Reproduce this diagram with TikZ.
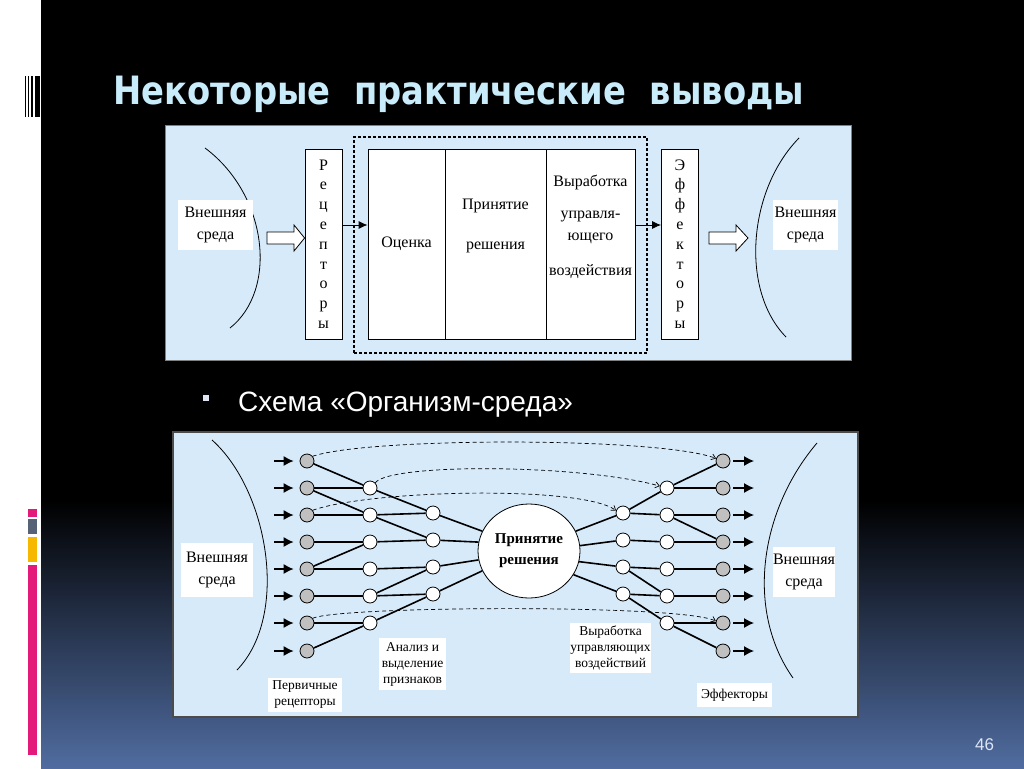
\documentclass[tikz,border=0pt]{standalone}
\usepackage{fontspec}
\setmainfont{Liberation Serif}
\newfontfamily\titlefont{DejaVu Sans}[FakeStretch=0.865]
\newfontfamily\arialfont{Liberation Sans}
\usetikzlibrary{arrows.meta,shapes.geometric}
\definecolor{panel}{RGB}{214,234,250}
\definecolor{titleblue}{RGB}{200,236,250}
\definecolor{pinkbar}{RGB}{228,26,122}
\definecolor{graybar}{RGB}{88,98,118}
\definecolor{yellowbar}{RGB}{246,184,0}
\definecolor{bottomblue}{RGB}{80,108,160}
\definecolor{nodegray}{RGB}{192,192,192}
\definecolor{bullcol}{RGB}{222,230,245}
\begin{document}
\begin{tikzpicture}[x=1pt,y=-1pt,
  envbox/.style={fill=white, inner sep=0pt, align=center, font=\fontsize{16}{22}\selectfont},
  colbox/.style={draw, line width=0.8pt, fill=white, inner sep=0pt, minimum height=190pt},
  coltext/.style={inner sep=0pt, align=center, font=\fontsize{16}{22}\selectfont},
  letterbox/.style={draw, line width=0.8pt, fill=white, inner sep=0pt, minimum width=37pt, minimum height=190pt, align=center, font=\fontsize{16}{19.8}\selectfont},
  hollowarr/.style={draw, line width=0.8pt, fill=white, line join=miter},
  smallarr/.style={line width=0.8pt, -{Latex[length=9pt,width=8pt]}},
  gn/.style={circle, draw, line width=0.8pt, fill=nodegray, minimum size=14pt, inner sep=0pt},
  wn/.style={circle, draw, line width=0.8pt, fill=white, minimum size=14pt, inner sep=0pt},
  link/.style={line width=1.6pt},
  inarr/.style={line width=1.2pt, -{Latex[length=10pt,width=10pt]}},
  dcurve/.style={line width=0.7pt, dash pattern=on 4pt off 3pt, -{Straight Barb[length=4pt,width=6pt]}},
  lab/.style={fill=white, inner sep=0pt, align=center, font=\fontsize{13.5}{16}\selectfont},
  arc/.style={line width=0.8pt},
]
\useasboundingbox (0,0) rectangle (1024,768);
% background
\fill[white] (0,0) rectangle (41,768);
\fill[black] (41,0) rectangle (1024,768);
\shade[top color=black, bottom color=bottomblue] (41,500) rectangle (1024,768);
% barcode
\fill[black] (25,76) rectangle (25.8,117);
\fill[black] (27.7,76) rectangle (29.3,117);
\fill[black] (30.7,76) rectangle (33.3,117);
\fill[black] (34.7,76) rectangle (40,117);
% colored bars
\fill[pinkbar] (28,509) rectangle (37,517);
\fill[graybar] (28,519) rectangle (37,534);
\fill[yellowbar] (28,537) rectangle (37,562);
\fill[pinkbar] (28,565) rectangle (37,755);
% title
\node[anchor=base west, inner sep=0pt, text=titleblue, font=\titlefont\bfseries\fontsize{39}{44}\selectfont] (title) at (113,104) {Некоторые\hspace{12pt} практические\hspace{12pt} выводы};
% bullet
\fill[bullcol] (203,395) rectangle (209,401);
\node[anchor=base west, inner sep=0pt, text=white, font=\arialfont\fontsize{28}{32}\selectfont] (bullet) at (238,411) {Схема «Организм-среда»};
% slide number
\node[anchor=base west, inner sep=0pt, text=bullcol, font=\arialfont\fontsize{17}{20}\selectfont] (num) at (975,750) {46};

% ---------- top diagram ----------
\fill[panel] (165,125) rectangle (851,360);
\draw[gray, line width=0.6pt] (165,125) rectangle (851,360);
\draw[arc] (205,148) .. controls (268,195) and (278,290) .. (230,328);
\draw[arc] (799,138) .. controls (748,190) and (740,290) .. (786,337);
\node[envbox, minimum width=75pt, minimum height=50pt] (envL) at (215.5,225) {Внешняя\\среда};
\node[envbox, minimum width=65pt, minimum height=50pt] (envR) at (805.5,225) {Внешняя\\среда};
\node[letterbox] (rec) at (323.5,244) {Р\\е\\ц\\е\\п\\т\\о\\р\\ы};
\node[letterbox] (eff) at (680,244) {Э\\ф\\ф\\е\\к\\т\\о\\р\\ы};
% hollow block arrows
\draw[hollowarr] (267,232) -- (294,232) -- (294,225) -- (rec.west |- 0,238) -- (294,251) -- (294,244) -- (267,244) -- cycle;
\draw[hollowarr] (709,232) -- (736,232) -- (736,225) -- (748,238) -- (736,251) -- (736,244) -- (709,244) -- cycle;
\node[draw, line width=1.1pt, dash pattern=on 3pt off 2pt, minimum width=293pt, minimum height=216pt, inner sep=0pt] (dbox) at (500.5,245) {};
\node[colbox, minimum width=77pt, font=\fontsize{16}{22}\selectfont] (oc) at (406.5,244) {Оценка};
\node[colbox, minimum width=101pt] (pr) at (495.5,244) {};
\node[colbox, minimum width=89pt] (vy) at (590.5,244) {};
\node[coltext] (prtext) at (495.5,226) {Принятие\\[18pt]решения};
\node[coltext] (vytext) at (590.5,227) {Выработка\\[10pt]управля-\\ющего\\[13pt]воздействия};
\coordinate (ay) at (0,225);
\draw[smallarr] (rec.east |- ay) -- (oc.west |- ay);
\draw[smallarr] (vy.east |- ay) -- (eff.west |- ay);

% ---------- bottom diagram ----------
\fill[panel] (173,432) rectangle (858,717);
\draw[black!70, line width=1.5pt] (173,432) rectangle (858,717);
\draw[arc] (212,440) .. controls (268,490) and (290,615) .. (237,670);
\draw[arc] (817,443) .. controls (760,510) and (745,610) .. (793,678);
\node[envbox, minimum width=72pt, minimum height=54pt] (benvL) at (217,570) {Внешняя\\среда};
\node[envbox, minimum width=62pt, minimum height=50pt] (benvR) at (804,572) {Внешняя\\среда};

% primary receptors and effectors
\foreach \i/\y in {1/461,2/488,3/515,4/542,5/569,6/596,7/623,8/651}{
  \node[gn] (g\i) at (307,\y) {};
  \node[gn] (e\i) at (723,\y) {};
  \coordinate (ia\i) at (274,\y);
  \coordinate (oa\i) at (754,\y);
  \draw[inarr, shorten >=6pt] (ia\i) -- (g\i);
  \draw[inarr, shorten <=3pt] (e\i) -- (oa\i);
}
% second columns
\foreach \i/\y in {2/488,3/515,4/542,5/569,6/596,7/623}{
  \node[wn] (c2r\i) at (370,\y) {};
  \node[wn] (r2r\i) at (667,\y) {};
}
% third columns
\foreach \n/\y in {a/513,b/540,c/567,d/594}{
  \node[wn] (c3\n) at (433,\y) {};
  \node[wn] (r1\n) at (623,\y) {};
}
\node[ellipse, draw, line width=0.8pt, fill=white, minimum width=102pt, minimum height=94pt, inner sep=0pt, align=center, font=\bfseries\fontsize{15}{21}\selectfont] (dec) at (529,551) {Принятие\\решения};

% left links
\draw[link] (g1) -- (c2r2);
\draw[link] (g2) -- (c2r2);
\draw[link] (g2) -- (c2r3);
\draw[link] (g3) -- (c2r3);
\draw[link] (g4) -- (c2r4);
\draw[link] (g5) -- (c2r4);
\draw[link] (g5) -- (c2r5);
\draw[link] (g6) -- (c2r6);
\draw[link] (g7) -- (c2r7);
\draw[link] (g8) -- (c2r7);
\draw[link] (c2r2) -- (c3a);
\draw[link] (c2r3) -- (c3a);
\draw[link] (c2r3) -- (c3b);
\draw[link] (c2r4) -- (c3b);
\draw[link] (c2r5) -- (c3c);
\draw[link] (c2r6) -- (c3c);
\draw[link] (c2r6) -- (c3d);
\draw[link] (c2r7) -- (c3d);
\draw[link] (c3a) -- (dec.157);
\draw[link] (c3b) -- (dec.170);
\draw[link] (c3c) -- (dec.190);
\draw[link] (c3d) -- (dec.203);
% right links
\draw[link] (dec.23) -- (r1a);
\draw[link] (dec.6) -- (r1b);
\draw[link] (dec.-12) -- (r1c);
\draw[link] (dec.-28) -- (r1d);
\draw[link] (r1a) -- (r2r2);
\draw[link] (r1a) -- (r2r3);
\draw[link] (r1b) -- (r2r4);
\draw[link] (r1c) -- (r2r5);
\draw[link] (r1c) -- (r2r6);
\draw[link] (r1d) -- (r2r6);
\draw[link] (r1d) -- (r2r7);
\draw[link] (r2r2) -- (e1);
\draw[link] (r2r2) -- (e2);
\draw[link] (r2r3) -- (e3);
\draw[link] (r2r3) -- (e4);
\draw[link] (r2r4) -- (e4);
\draw[link] (r2r5) -- (e5);
\draw[link] (r2r6) -- (e6);
\draw[link] (r2r7) -- (e7);
\draw[link] (r2r7) -- (e8);
% dashed feedforward curves
\draw[dcurve] (g1.40) .. controls (370,437) and (660,437) .. (e1.160);
\draw[dcurve] (c2r2.45) .. controls (390,463) and (580,464) .. (r2r2.165);
\draw[dcurve] (g3.40) .. controls (370,490) and (580,485) .. (r1a.160);
\draw[dcurve] (g7.40) .. controls (340,606) and (680,604) .. (e7.165);
% labels
\node[lab, minimum width=67pt, minimum height=52pt] (anal) at (412.5,664) {Анализ и\\выделение\\признаков};
\node[lab, minimum width=74pt, minimum height=34pt] (perv) at (305,695) {Первичные\\рецепторы};
\node[lab, minimum width=75pt, minimum height=50pt] (vyrab) at (610.5,648) {Выработка\\управляющих\\воздействий};
\node[lab, minimum width=75pt, minimum height=24pt] (effl) at (734.5,695) {Эффекторы};
\end{tikzpicture}
\end{document}
